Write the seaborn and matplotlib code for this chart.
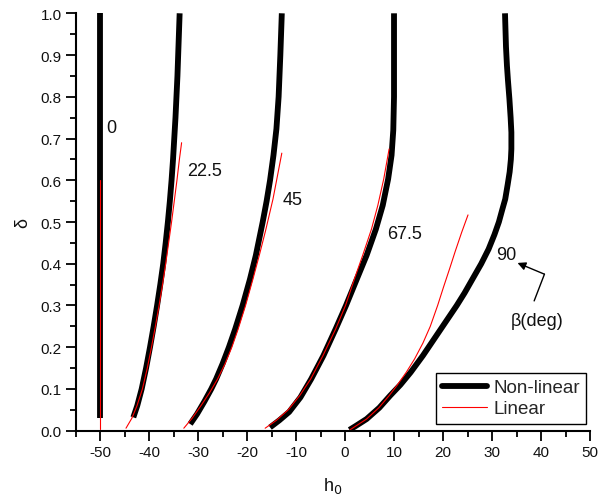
import matplotlib
matplotlib.use("Agg")
import matplotlib.pyplot as plt
from matplotlib.lines import Line2D
from matplotlib.ticker import MultipleLocator
import numpy as np
import pandas as pd
import seaborn as sns

sns.set_theme(style="ticks")
plt.rcParams["font.family"] = ["Liberation Sans", "DejaVu Sans"]

# Wave incidence angles beta (deg)
betas = ["0", "22.5", "45", "67.5", "90"]

# Non-linear solution: h0 vs delta for each beta
nl_h_0 = [-50.0, -50.0]
nl_d_0 = [0.03, 1.0]
nl_h_22 = [-43.2, -42.4, -41.5, -40.6, -39.8, -39.05, -38.35, -37.7, -37.1, -36.6, -36.15,
           -35.75, -35.4, -35.1, -34.85, -34.6, -34.4, -34.2, -34.05, -33.9, -33.75]
nl_d_22 = [0.032, 0.06, 0.1, 0.15, 0.2, 0.25, 0.3, 0.35, 0.4, 0.45, 0.5,
           0.55, 0.6, 0.65, 0.7, 0.75, 0.8, 0.85, 0.9, 0.95, 1.0]
nl_h_45 = [-31.6, -30.2, -28.7, -27.3, -26.3, -25.0, -23.7, -22.4, -20.9, -19.4,
           -18.2, -16.8, -16.0, -15.3, -14.6, -14.0, -13.55, -13.2, -12.9]
nl_d_45 = [0.016, 0.04, 0.07, 0.1, 0.124, 0.16, 0.2, 0.244, 0.3, 0.363,
           0.42, 0.5, 0.55, 0.6, 0.66, 0.723, 0.8, 0.9, 1.0]
nl_h_67 = [-15.3, -13.4, -11.4, -9.1, -6.9, -4.4, -1.9, 0.2, 2.4, 4.4, 6.3, 7.7,
           8.8, 9.5, 9.85, 10.0, 10.0, 10.0]
nl_d_67 = [0.008, 0.025, 0.045, 0.08, 0.124, 0.18, 0.244, 0.3, 0.363, 0.42, 0.483, 0.54,
           0.603, 0.66, 0.72, 0.8, 0.9, 1.0]
nl_h_90 = [0.9, 2.0, 4.4, 7.0, 9.2, 11.3, 13.4, 15.9, 18.2, 20.5, 22.8, 24.4, 26.0,
           27.8, 29.3, 30.5, 31.4, 32.1, 32.7, 33.2, 33.6, 33.85, 33.95, 33.95,
           33.8, 33.55, 33.25, 33.05, 32.85, 32.75, 32.65]
nl_d_90 = [0.002, 0.01, 0.028, 0.055, 0.084, 0.11, 0.14, 0.18, 0.22, 0.26, 0.30, 0.33, 0.363,
           0.40, 0.435, 0.47, 0.5, 0.53, 0.555, 0.59, 0.62, 0.65, 0.675, 0.715,
           0.75, 0.795, 0.84, 0.874, 0.92, 0.96, 1.0]

# Linear solution: h0 vs delta for each beta
li_h_0 = [-50.0, -50.0]
li_d_0 = [0.005, 0.6]
li_h_22 = [-44.7, -43.5, -42.45, -41.35, -40.35, -39.5, -38.7, -37.95, -37.25, -36.6,
           -36.0, -35.4, -34.85, -34.3, -33.8, -33.35]
li_d_22 = [0.006, 0.03, 0.06, 0.1, 0.15, 0.2, 0.25, 0.3, 0.35, 0.4,
           0.45, 0.5, 0.55, 0.6, 0.65, 0.69]
li_h_45 = [-32.9, -31.2, -29.4, -27.7, -26.0, -24.5, -23.1, -21.8, -20.3, -18.8,
           -17.5, -16.2, -14.7, -13.8, -12.9]
li_d_45 = [0.006, 0.03, 0.06, 0.09, 0.124, 0.16, 0.2, 0.244, 0.3, 0.363,
           0.42, 0.48, 0.555, 0.61, 0.665]
li_h_67 = [-16.3, -14.0, -11.6, -9.2, -7.0, -4.5, -1.9, 0.1, 1.9, 3.6, 5.4, 6.7, 7.9, 9.0]
li_d_67 = [0.006, 0.025, 0.05, 0.085, 0.124, 0.18, 0.244, 0.3, 0.363, 0.42, 0.483, 0.54,
           0.603, 0.675]
li_h_90 = [1.0, 4.4, 6.9, 9.0, 10.7, 12.5, 14.2, 15.9, 17.4, 18.9, 20.1, 21.4, 22.5, 23.8, 25.1]
li_d_90 = [0.002, 0.028, 0.055, 0.084, 0.11, 0.14, 0.172, 0.21, 0.25, 0.30, 0.344, 0.39,
           0.43, 0.475, 0.517]

nonlinear = [(nl_h_0, nl_d_0), (nl_h_22, nl_d_22), (nl_h_45, nl_d_45),
             (nl_h_67, nl_d_67), (nl_h_90, nl_d_90)]
linear = [(li_h_0, li_d_0), (li_h_22, li_d_22), (li_h_45, li_d_45),
          (li_h_67, li_d_67), (li_h_90, li_d_90)]

frames = []
for b, (h, d) in zip(betas, nonlinear):
    frames.append(pd.DataFrame({"h0": h, "delta": d, "beta": b, "model": "Non-linear"}))
for b, (h, d) in zip(betas, linear):
    frames.append(pd.DataFrame({"h0": h, "delta": d, "beta": b, "model": "Linear"}))
df = pd.concat(frames, ignore_index=True)

# Curve labels (beta values) and their positions
label_text = ["0", "22.5", "45", "67.5", "90"]
label_h = [-47.6, -28.6, -10.6, 12.2, 32.9]
label_d = [0.727, 0.624, 0.555, 0.473, 0.423]

fig = plt.figure(figsize=(6.13, 5.02), dpi=100)
ax = fig.add_axes([0.1232, 0.140, 0.8393, 0.8315])

for b in betas:
    sub = df[(df.beta == b) & (df.model == "Non-linear")]
    sns.lineplot(data=sub, x="h0", y="delta", sort=False, estimator=None,
                 color="black", linewidth=4.2, ax=ax, legend=False,
                 solid_capstyle="butt", solid_joinstyle="round")
for b in betas:
    sub = df[(df.beta == b) & (df.model == "Linear")]
    sns.lineplot(data=sub, x="h0", y="delta", sort=False, estimator=None,
                 color="#ff0000", linewidth=0.8, ax=ax, legend=False,
                 solid_joinstyle="round")

for t, x, y in zip(label_text, label_h, label_d):
    ax.text(x, y, t, fontsize=13, ha="center", va="center", color="#111111")

# beta(deg) annotation with bent arrow
ax.text(39.3, 0.263, "β(deg)", fontsize=13, ha="center", va="center", color="#111111")
ax.plot([38.6, 40.7], [0.311, 0.375], color="black", linewidth=1.0)
ax.annotate("", xy=(35.2, 0.402), xytext=(40.7, 0.375),
            arrowprops=dict(arrowstyle="-|>", color="black", lw=1.0,
                            mutation_scale=12, shrinkA=0, shrinkB=0))

ax.set_xlim(-55, 50)
ax.set_ylim(0, 1.0)
ax.xaxis.set_minor_locator(MultipleLocator(5))
ax.yaxis.set_minor_locator(MultipleLocator(0.05))
ax.set_xticks(np.arange(-50, 51, 10))
ax.set_xticklabels([str(v) for v in range(-50, 51, 10)])
ax.set_yticks(np.round(np.arange(0, 1.01, 0.1), 1))
ax.set_yticklabels([f"{v:.1f}" for v in np.arange(0, 1.01, 0.1)])
ax.tick_params(which="major", direction="out", length=7, width=1.3,
               labelsize=11, colors="black", labelcolor="#111111", pad=3)
ax.tick_params(which="minor", direction="out", length=4, width=1.3, colors="black")

for s in ["top", "right"]:
    ax.spines[s].set_visible(False)
for s in ["left", "bottom"]:
    ax.spines[s].set_linewidth(1.5)
    ax.spines[s].set_color("black")

ax.set_xlabel("h$_0$", fontsize=13, labelpad=12, color="#111111")
ax.set_ylabel("δ", fontsize=13, labelpad=7, color="#111111")

handles = [Line2D([], [], color="black", linewidth=4.2),
           Line2D([], [], color="#ff0000", linewidth=0.8)]
leg = ax.legend(handles, ["Non-linear", "Linear"], loc="lower right",
                bbox_to_anchor=(1.0, 0.008), fontsize=13.5, frameon=True,
                fancybox=False, edgecolor="black", handlelength=2.4,
                handletextpad=0.3, borderpad=0.35, labelspacing=0.2,
                borderaxespad=0.2)
leg.get_frame().set_linewidth(1.0)
leg.get_frame().set_alpha(1.0)

fig.savefig("out.png", dpi=100)
